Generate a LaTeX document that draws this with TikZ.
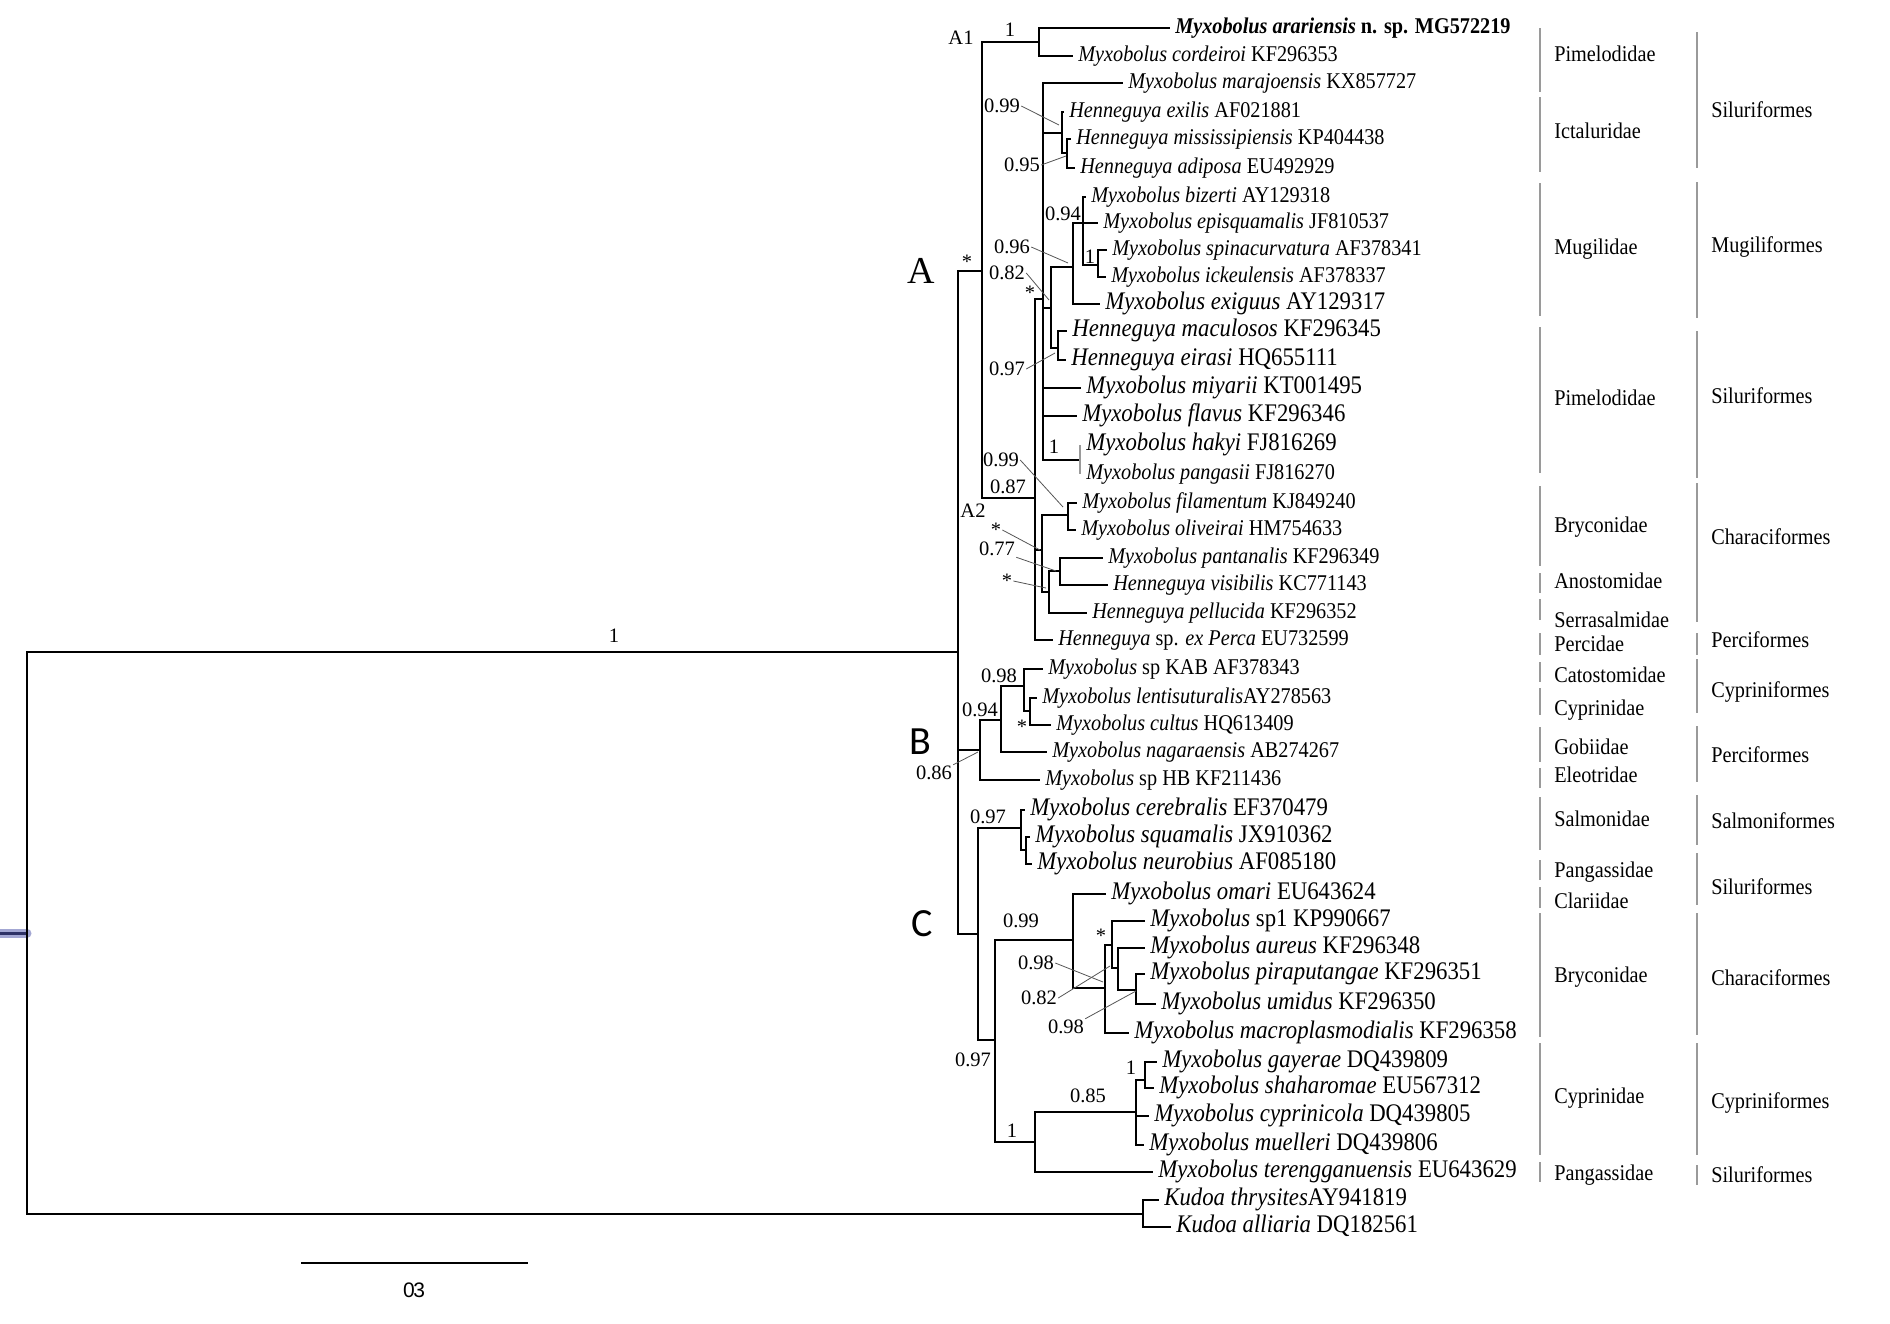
\documentclass[tikz,border=0pt]{standalone}
\usepackage{fontspec}
\setmainfont{Liberation Serif}
\newfontfamily\leaffont{Liberation Serif}[FakeStretch=0.9]
\newfontfamily\cladefont{Carlito}
\newfontfamily\barfont{Liberation Sans}
\usetikzlibrary{calc}
\definecolor{cgrey}{HTML}{9A9A9A}
\definecolor{cleader}{HTML}{555555}
\definecolor{chandle}{HTML}{A3A7D3}
\definecolor{chandledark}{HTML}{2E3266}
\tikzset{
  every picture/.style={x=1pt, y=-1pt, line width=2.6pt, line cap=rect},
  leaf/.style={anchor=west, inner xsep=5pt, inner ysep=0pt, text height=15.5pt, text depth=5pt, font=\leaffont\fontsize{22.5}{26}\selectfont},
  bigleaf/.style={leaf, text height=17pt, text depth=5.5pt, font=\leaffont\fontsize{25.3}{29}\selectfont},
  sup/.style={inner sep=0pt, font=\fontsize{20.5}{24}\selectfont},
  leader/.style={draw=cleader, line width=0.8pt, line cap=butt},
  thinbar/.style={draw=cgrey, line width=1.2pt, line cap=butt},
  taxbar/.style={draw=cgrey, line width=1.6pt, line cap=butt},
  taxon/.style={anchor=west, inner sep=0pt, text height=15pt, text depth=4pt, font=\leaffont\fontsize{22.5}{26}\selectfont},
  clade/.style={inner sep=0pt, font=\cladefont\fontsize{40}{42}\selectfont},
}

\begin{document}
\begin{tikzpicture}
  \useasboundingbox (0,0) rectangle (1890,1323);

  % internal nodes (x of the vertical, y of the stem)
  \coordinate (root) at (27,652);
  \coordinate (handle) at (27,933);
  \coordinate (nI) at (958,652);
  \coordinate (nA) at (982,271);
  \coordinate (nA1) at (1039,42);
  \coordinate (nA2) at (1035,498);
  \coordinate (nS) at (1043,299);
  \coordinate (nH) at (1062,133);
  \coordinate (nH2) at (1067,153);
  \coordinate (n082) at (1051,308);
  \coordinate (nMug) at (1073,267);
  \coordinate (n094) at (1083,223);
  \coordinate (nSp) at (1098,265);
  \coordinate (nMac) at (1058,348);
  \coordinate (nHk) at (1080,460);
  \coordinate (nBr) at (1042,550);
  \coordinate (nFil) at (1068,515);
  \coordinate (nQ) at (1049,592);
  \coordinate (nR) at (1060,571);
  \coordinate (nB) at (980,750);
  \coordinate (nB2) at (1001,720);
  \coordinate (n098) at (1024,686);
  \coordinate (nLC) at (1030,711);
  \coordinate (nC) at (978,934);
  \coordinate (nSal) at (1021,828);
  \coordinate (nSal2) at (1026,850);
  \coordinate (n097) at (995,1040);
  \coordinate (n099) at (1073,940);
  \coordinate (nX) at (1105,988);
  \coordinate (nStar) at (1112,945);
  \coordinate (nAur) at (1118,968);
  \coordinate (nPU) at (1136,990);
  \coordinate (nOne) at (1035,1142);
  \coordinate (n085) at (1136,1112);
  \coordinate (nG) at (1145,1080);
  \coordinate (nK) at (1143,1214);

  % leaves
  \node[leaf] (arar) at (1169,28) {\textbf{\textit{Myxobolus arariensis} n. sp. MG572219}};
  \node[leaf] (cord) at (1072,56) {\textit{Myxobolus cordeiroi} KF296353};
  \node[leaf] (mara) at (1122,83) {\textit{Myxobolus marajoensis} KX857727};
  \node[leaf] (exil) at (1063,112) {\textit{Henneguya exilis} AF021881};
  \node[leaf] (miss) at (1070,139) {\textit{Henneguya mississipiensis} KP404438};
  \node[leaf] (adip) at (1074,168) {\textit{Henneguya adiposa} EU492929};
  \node[leaf] (bize) at (1085,197) {\textit{Myxobolus bizerti} AY129318};
  \node[leaf] (epis) at (1097,223) {\textit{Myxobolus episquamalis} JF810537};
  \node[leaf] (spin) at (1106,250) {\textit{Myxobolus spinacurvatura} AF378341};
  \node[leaf] (icke) at (1105,277) {\textit{Myxobolus ickeulensis} AF378337};
  \node[bigleaf] (exig) at (1099,304) {\textit{Myxobolus exiguus} AY129317};
  \node[bigleaf] (macu) at (1066,331) {\textit{Henneguya maculosos} KF296345};
  \node[bigleaf] (eira) at (1065,360) {\textit{Henneguya eirasi} HQ655111};
  \node[bigleaf] (miya) at (1080,388) {\textit{Myxobolus miyarii} KT001495};
  \node[bigleaf] (flav) at (1076,416) {\textit{Myxobolus flavus} KF296346};
  \node[bigleaf] (haky) at (1080,445) {\textit{Myxobolus hakyi} FJ816269};
  \node[leaf] (pang) at (1080,474) {\textit{Myxobolus pangasii} FJ816270};
  \node[leaf] (fila) at (1076,503) {\textit{Myxobolus filamentum} KJ849240};
  \node[leaf] (oliv) at (1075,530) {\textit{Myxobolus oliveirai} HM754633};
  \node[leaf] (pant) at (1102,558) {\textit{Myxobolus pantanalis} KF296349};
  \node[leaf] (visi) at (1107,585) {\textit{Henneguya visibilis} KC771143};
  \node[leaf] (pell) at (1086,613) {\textit{Henneguya pellucida} KF296352};
  \node[leaf] (perc) at (1052,640) {\textit{Henneguya} sp. \textit{ex Perca} EU732599};
  \node[leaf] (kab) at (1042,669) {\textit{Myxobolus} sp KAB AF378343};
  \node[leaf] (lent) at (1036,698) {\textit{Myxobolus lentisuturalis}AY278563};
  \node[leaf] (cult) at (1050,725) {\textit{Myxobolus cultus} HQ613409};
  \node[leaf] (naga) at (1046,752) {\textit{Myxobolus nagaraensis} AB274267};
  \node[leaf] (sphb) at (1039,780) {\textit{Myxobolus} sp HB KF211436};
  \node[bigleaf] (cere) at (1024,810) {\textit{Myxobolus cerebralis} EF370479};
  \node[bigleaf] (squa) at (1029,837) {\textit{Myxobolus squamalis} JX910362};
  \node[bigleaf] (neur) at (1031,864) {\textit{Myxobolus neurobius} AF085180};
  \node[bigleaf] (omar) at (1105,894) {\textit{Myxobolus omari} EU643624};
  \node[bigleaf] (sp1) at (1144,921) {\textit{Myxobolus} sp1 KP990667};
  \node[bigleaf] (aure) at (1144,948) {\textit{Myxobolus aureus} KF296348};
  \node[bigleaf] (pira) at (1144,974) {\textit{Myxobolus piraputangae} KF296351};
  \node[bigleaf] (umid) at (1155,1004) {\textit{Myxobolus umidus} KF296350};
  \node[bigleaf] (macr) at (1128,1033) {\textit{Myxobolus macroplasmodialis} KF296358};
  \node[bigleaf] (gaye) at (1156,1062) {\textit{Myxobolus gayerae} DQ439809};
  \node[bigleaf] (shah) at (1153,1088) {\textit{Myxobolus shaharomae} EU567312};
  \node[bigleaf] (cypr) at (1148,1116) {\textit{Myxobolus cyprinicola} DQ439805};
  \node[bigleaf] (muel) at (1143,1145) {\textit{Myxobolus muelleri} DQ439806};
  \node[bigleaf] (tere) at (1152,1172) {\textit{Myxobolus terengganuensis} EU643629};
  \node[bigleaf] (thry) at (1158,1200) {\textit{Kudoa thrysites}AY941819};
  \node[bigleaf] (alli) at (1170,1227) {\textit{Kudoa alliaria} DQ182561};

  % selection handle on the root
  \draw[line width=9pt, chandle, line cap=round] (handle) -- ++(-40,0);
  \draw[line width=3pt, chandledark, line cap=butt] (handle) -- ++(-30,0);

  % branches
  \foreach \pa/\ch in {root/nI, root/nK, nI/nA, nI/nB, nI/nC, nA/nA1, nA/nA2,
      nA1/arar.west, nA1/cord.west, nA2/nS, nA2/nBr, nA2/perc.west,
      nS/mara.west, nS/nH, nS/n082, nS/miya.west, nS/flav.west, nS/nHk,
      nH/exil.west, nH/nH2, nH2/miss.west, nH2/adip.west,
      n082/nMug, n082/nMac, nMug/n094, nMug/exig.west,
      n094/bize.west, n094/epis.west, n094/nSp, nSp/spin.west, nSp/icke.west,
      nMac/macu.west, nMac/eira.west, nBr/nFil, nBr/nQ,
      nFil/fila.west, nFil/oliv.west, nQ/nR, nQ/pell.west, nR/pant.west, nR/visi.west,
      nB/nB2, nB/sphb.west, nB2/n098, nB2/naga.west, n098/kab.west, n098/nLC,
      nLC/lent.west, nLC/cult.west, nC/nSal, nC/n097, nSal/cere.west, nSal/nSal2,
      nSal2/squa.west, nSal2/neur.west, n097/n099, n097/nOne,
      n099/omar.west, n099/nX, nX/nStar, nX/macr.west, nStar/sp1.west, nStar/nAur,
      nAur/aure.west, nAur/nPU, nPU/pira.west, nPU/umid.west,
      nOne/n085, nOne/tere.west, n085/nG, n085/cypr.west, n085/muel.west,
      nG/gaye.west, nG/shah.west, nK/thry.west, nK/alli.west}
    \draw (\pa) |- (\ch);
  \draw[thinbar] (haky.west) -- (pang.west);

  % support values
  \node[sup] (s-root) at (614,636) {1};
  \node[sup] (s-A) at (967,262) {*};
  \node[sup] (s-A1) at (1010,30) {1};
  \node[sup] (s-nH) at (1002,106) {0.99};
  \node[sup] (s-nH2) at (1022,165) {0.95};
  \node[sup] (s-n094) at (1063,214) {0.94};
  \node[sup] (s-nSp) at (1090,257) {1};
  \node[sup] (s-nMug) at (1012,247) {0.96};
  \node[sup] (s-n082) at (1007,273) {0.82};
  \node[sup] (s-nS) at (1030,293) {*};
  \node[sup] (s-nMac) at (1007,369) {0.97};
  \node[sup] (s-nHk) at (1054,447) {1};
  \node[sup] (s-nFil) at (1001,460) {0.99};
  \node[sup] (s-nA2) at (1008,487) {0.87};
  \node[sup] (s-nBr) at (996,530) {*};
  \node[sup] (s-nR) at (997,549) {0.77};
  \node[sup] (s-nQ) at (1007,581) {*};
  \node[sup] (s-n098) at (999,676) {0.98};
  \node[sup] (s-nB2) at (980,710) {0.94};
  \node[sup] (s-nLC) at (1022,727) {*};
  \node[sup] (s-nB) at (934,773) {0.86};
  \node[sup] (s-nSal) at (988,817) {0.97};
  \node[sup] (s-n099) at (1021,921) {0.99};
  \node[sup] (s-nStar) at (1101,936) {*};
  \node[sup] (s-nX) at (1036,963) {0.98};
  \node[sup] (s-nAur) at (1039,998) {0.82};
  \node[sup] (s-nPU) at (1066,1027) {0.98};
  \node[sup] (s-n097) at (973,1060) {0.97};
  \node[sup] (s-n085) at (1088,1096) {0.85};
  \node[sup] (s-nG) at (1131,1068) {1};
  \node[sup] (s-nOne) at (1012,1131) {1};

  % leader lines from values to their nodes
  \draw[leader] (s-nH.east) -- ($(nH)+(-3,-8)$);
  \draw[leader] (s-nH2.east) -- ($(nH2)+(-1,3)$);
  \draw[leader] (s-nMug.east) -- ($(nMug)+(-5,-4)$);
  \draw[leader] (s-n082.east) -- ($(n082)+(-2,-8)$);
  \draw[leader] (s-nMac.east) -- ($(nMac)+(-3,5)$);
  \draw[leader] (s-nFil.east) -- ($(nFil)+(-5,-8)$);
  \draw[leader] (s-nBr.east) -- ($(nBr)+(-2,0)$);
  \draw[leader] (s-nR.south east) -- ($(nR)+(-4,0)$);
  \draw[leader] (s-nQ.east) -- ($(nQ)+(-3,-4)$);
  \draw[leader] (s-nB.north east) -- ($(nB)+(-2,2)$);
  \draw[leader] (s-nX.east) -- ($(nX)+(-2,-6)$);
  \draw[leader] (s-nAur.east) -- ($(nAur)+(-8,-2)$);
  \draw[leader] (s-nPU.north east) -- ($(nPU)+(0,1)$);

  % clade letters
  \node[inner sep=0pt, font=\fontsize{38}{40}\selectfont] (lbl-A) at (921,271) {A};
  \node[sup] (lbl-A1) at (961,38) {A1};
  \node[sup] (lbl-A2) at (973,511) {A2};
  \node[clade] (lbl-B) at (920,742) {B};
  \node[clade] (lbl-C) at (922,924) {C};

  % host families
  \foreach \top/\bot/\name/\ly [count=\i] in {28/92/Pimelodidae/56, 97/172/Ictaluridae/133,
      183/316/Mugilidae/249, 327/473/Pimelodidae/400, 486/566/Bryconidae/527,
      573/593/Anostomidae/583, 599/620/Serrasalmidae/622, 633/655/Percidae/646,
      662/682/Catostomidae/677, 688/715/Cyprinidae/710, 727/762/Gobiidae/749,
      768/788/Eleotridae/777, 797/850/Salmonidae/821, 860/880/Pangassidae/872,
      887/908/Clariidae/903, 913/1037/Bryconidae/977, 1043/1155/Cyprinidae/1098,
      1162/1182/Pangassidae/1175} {
    \draw[taxbar] (1540,\top) -- (1540,\bot);
    \node[taxon] (fam\i) at (1553,\ly) {\name};
  }
  % host orders
  \foreach \top/\bot/\name/\ly [count=\i] in {32/168/Siluriformes/112, 182/318/Mugiliformes/247,
      331/478/Siluriformes/398, 483/622/Characiformes/539, 633/655/Perciformes/642,
      659/713/Cypriniformes/692, 726/782/Perciformes/757, 795/845/Salmoniformes/823,
      853/905/Siluriformes/889, 913/1035/Characiformes/980, 1043/1155/Cypriniformes/1103,
      1165/1185/Siluriformes/1177} {
    \draw[taxbar] (1697,\top) -- (1697,\bot);
    \node[taxon] (ord\i) at (1710,\ly) {\name};
  }

  % scale bar
  \coordinate (barL) at (301,1263);
  \coordinate (barR) at (528,1263);
  \draw[line width=2pt, line cap=butt] (barL) -- (barR);
  \node[inner sep=0pt, font=\barfont\fontsize{21}{24}\selectfont] (barlbl) at (414,1290) {0\kern-1.5pt 3};
\end{tikzpicture}
\end{document}
